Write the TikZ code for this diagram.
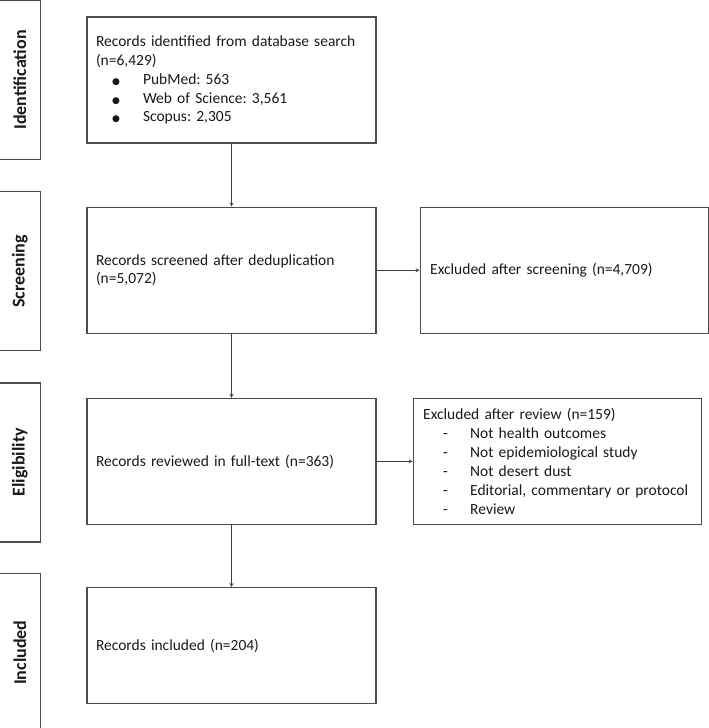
\documentclass[tikz,border=0pt]{standalone}
\usepackage{fontspec}
\setmainfont{Carlito}
\newfontfamily\symbfont{DejaVu Sans}
\usepackage{tikz}
\usetikzlibrary{positioning}
\frenchspacing
\tikzset{%
  flowarrow/.style = {-stealth, line width=0.8pt, draw=black!75},
  mainbox/.style = {rectangle, draw=black!70, line width=1.2pt,
        minimum height=126pt, text width=271pt, inner xsep=9pt,
        align=left, text=black!90, font=\fontsize{15.5}{18.9}\selectfont},
  exbox/.style = {mainbox, inner xsep=10pt},
  stagebox/.style = {rectangle, draw=black!70, line width=1.2pt,
        minimum width=42pt, minimum height=159pt, inner sep=0pt,
        text=black!90, font=\fontsize{18}{20}\selectfont\bfseries}
}
\newcommand{\bulitem}[1]{\hspace*{16pt}\makebox[31pt][l]{{\symbfont\fontsize{9}{9}\selectfont ●}}#1}
\newcommand{\dashitem}[1]{\hspace*{20pt}\makebox[27pt][l]{-}#1}

\begin{document}
\begin{tikzpicture}[x=1pt,y=1pt]
  \useasboundingbox (0,0) rectangle (709,-728);

  % main column
  \node[mainbox] (ident) at (231.5,-80) {Records identified from database search\\(n=6,429)\\
        \bulitem{PubMed: 563}\\\bulitem{Web of Science: 3,561}\\\bulitem{Scopus: 2,305}};
  \node[mainbox] (screen) [below=63pt of ident] {Records screened after deduplication\\(n=5,072)};
  \node[mainbox] (elig) [below=64pt of screen] {Records reviewed in full-text (n=363)};
  \node[mainbox, minimum height=116pt] (incl) [below=62pt of elig] {Records included (n=204)};

  % exclusions
  \node[exbox, text width=268.5pt] (exscreen) [right=43pt of screen] {Excluded after screening (n=4,709)};
  \node[exbox, text width=268pt] (exreview) [right=36pt of elig] {Excluded after review (n=159)\\
        \dashitem{Not health outcomes}\\\dashitem{Not epidemiological study}\\
        \dashitem{Not desert dust}\\\dashitem{Editorial, commentary or protocol}\\
        \dashitem{Review}};

  % stages
  \node[stagebox] (s1) [left=45pt of ident] {\rotatebox{90}{Identification}};
  \node[stagebox] (s2) [below=31pt of s1] {\rotatebox{90}{Screening}};
  \node[stagebox] (s3) [below=31pt of s2] {\rotatebox{90}{Eligibility}};
  \node[stagebox] (s4) [below=30pt of s3] {\rotatebox{90}{Included}};

  \draw[flowarrow] (ident) -- (screen);
  \draw[flowarrow] (screen) -- (elig);
  \draw[flowarrow] (elig) -- (incl);
  \draw[flowarrow] (screen) -- (exscreen);
  \draw[flowarrow] (elig) -- (exreview);
\end{tikzpicture}
\end{document}
